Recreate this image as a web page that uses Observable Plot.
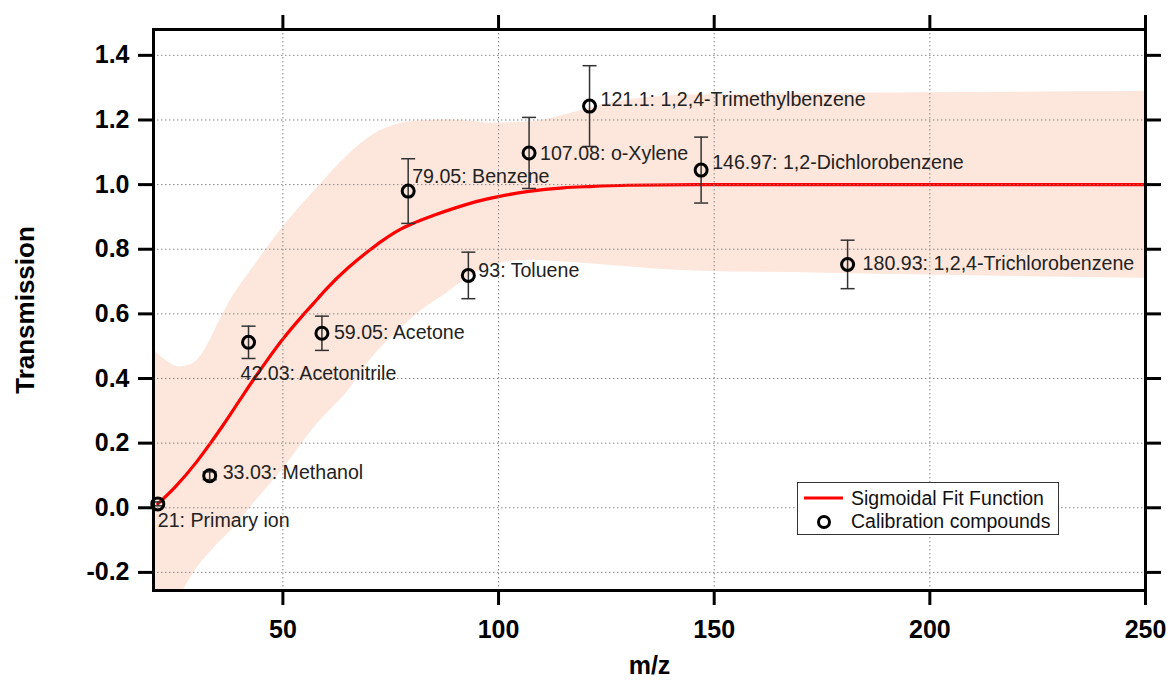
<!DOCTYPE html>
<html><head><meta charset="utf-8">
<script src="https://cdn.jsdelivr.net/npm/d3@7"></script>
<script src="https://cdn.jsdelivr.net/npm/@observablehq/plot@0.6"></script>
<style>
body{margin:0;background:#fff;}
#wrap{position:relative;width:1170px;height:681px;font-family:"Liberation Sans",Arial,sans-serif;}
#legend{position:absolute;left:797px;top:482px;width:260px;height:51px;border:1px solid #333;background:#fff;font-size:19.5px;color:#111;}
#legend span{position:absolute;left:53px;white-space:nowrap;line-height:1;}
#legend svg{position:absolute;left:0;top:0;}
</style></head><body><div id="wrap"></div>
<script>
// ---- data ----
const compoundMz = [21, 33.03, 42.03, 59.05, 79.05, 93, 107.08, 121.1, 146.97, 180.93];
const compoundNames = ["Primary ion", "Methanol", "Acetonitrile", "Acetone", "Benzene", "Toluene",
  "o-Xylene", "1,2,4-Trimethylbenzene", "1,2-Dichlorobenzene", "1,2,4-Trichlorobenzene"];
const transmission = [0.012, 0.099, 0.512, 0.54, 0.98, 0.719, 1.098, 1.243, 1.045, 0.753];
const transmissionErr = [0.006, 0.012, 0.05, 0.053, 0.1, 0.072, 0.11, 0.125, 0.102, 0.075];

const fitMz = [21, 25, 30, 33, 36, 40, 43, 46, 50, 54, 57, 60, 65, 70, 73, 77, 80, 85, 90, 95, 100, 107, 115, 121, 130, 146, 200, 250];
const fitT  = [0.012, 0.064, 0.142, 0.196, 0.253, 0.333, 0.393, 0.45, 0.522, 0.586, 0.631, 0.676, 0.741, 0.796, 0.826, 0.86, 0.879, 0.905, 0.928, 0.948, 0.963, 0.979, 0.99, 0.994, 0.998, 1.0, 1.0, 1.0];

const bandMz   = [20, 22, 24, 26, 28, 31, 33, 35, 38, 43, 50, 58, 65, 71, 77, 82, 88, 93, 98, 107, 118, 126, 145, 176, 200, 232, 250];
const bandLow  = [-0.45, -0.40, -0.34, -0.28, -0.23, -0.17, -0.14, -0.11, -0.07, 0.01, 0.12, 0.26, 0.36, 0.47, 0.55, 0.61, 0.664, 0.713, 0.75, 0.766, 0.758, 0.75, 0.733, 0.726, 0.72, 0.713, 0.71];
const bandHigh = [0.49, 0.465, 0.446, 0.436, 0.44, 0.47, 0.515, 0.57, 0.645, 0.742, 0.868, 0.99, 1.09, 1.155, 1.188, 1.198, 1.2, 1.197, 1.19, 1.194, 1.225, 1.253, 1.277, 1.282, 1.284, 1.287, 1.288];

const xTicks = [50, 100, 150, 200, 250];
const yTicks = [-0.2, 0.0, 0.2, 0.4, 0.6, 0.8, 1.0, 1.2, 1.4];

// ---- tables built from the arrays ----
const points = compoundMz.map((mz, i) => ({mz, t: transmission[i], err: transmissionErr[i],
  label: `${mz}: ${compoundNames[i]}`}));
const caps = points.flatMap(d => [{mz: d.mz, y: d.t + d.err}, {mz: d.mz, y: d.t - d.err}]);
const fit = fitMz.map((mz, i) => ({mz, t: fitT[i]}));
const band = bandMz.map((mz, i) => ({mz, lo: bandLow[i], hi: bandHigh[i]}));

// label placement (layout only)
const labelNudge = [[0,17],[13,-3],[-8,31],[12,-1],[4,-14],[10,-5],[11,1],[11,-6],[11,-7],[15,-1]];

const capSymbol = {draw(ctx) { ctx.moveTo(-7, 0); ctx.lineTo(7, 0); }};

const labelMarks = points.map((d, i) => Plot.text([d], {
  x: "mz", y: "t", text: "label", textAnchor: "start", lineAnchor: "middle",
  dx: labelNudge[i][0], dy: labelNudge[i][1], fontSize: 19.6, fill: "#222"
}));

const chart = Plot.plot({
  width: 1170, height: 681,
  marginLeft: 153, marginRight: 25, marginTop: 29, marginBottom: 91,
  style: {fontFamily: "'Liberation Sans', Arial, sans-serif", background: "white", color: "black"},
  x: {domain: [20, 250]},
  y: {domain: [-0.256, 1.48]},
  marks: [
    Plot.areaY(band, {x: "mz", y1: "lo", y2: "hi", fill: "#fde6db", curve: "monotone-x", clip: true}),
    Plot.line(fit, {x: "mz", y: "t", stroke: "#ff0000", strokeWidth: 3.2, curve: "monotone-x", clip: true}),
    Plot.gridX({ticks: [50, 100, 150, 200], stroke: "#888", strokeOpacity: 1, strokeDasharray: "1.5,2.5"}),
    Plot.gridY({ticks: yTicks, stroke: "#888", strokeOpacity: 1, strokeDasharray: "1.5,2.5"}),
    Plot.ruleX(points, {x: "mz", y1: d => d.t - d.err, y2: d => d.t + d.err, stroke: "#333", strokeWidth: 1.5}),
    Plot.dot(caps, {x: "mz", y: "y", symbol: capSymbol, stroke: "#333", strokeWidth: 1.5, fill: "none"}),
    Plot.dot(points, {x: "mz", y: "t", r: 6, stroke: "black", strokeWidth: 3, fill: "none"}),
    ...labelMarks,
    Plot.frame({stroke: "black", strokeWidth: 3}),
    Plot.axisX({anchor: "bottom", ticks: xTicks, tickSize: 15, tickPadding: 15, strokeWidth: 3,
      fontSize: 25, fontWeight: "bold", tickFormat: d => String(d), label: null}),
    Plot.axisX({anchor: "top", ticks: xTicks, tickSize: 15, strokeWidth: 3, tickFormat: () => "", label: null}),
    Plot.axisY({anchor: "left", ticks: yTicks, tickSize: 15, tickPadding: 9, strokeWidth: 3,
      fontSize: 25, fontWeight: "bold", tickFormat: d => d.toFixed(1), label: null}),
    Plot.axisY({anchor: "right", ticks: yTicks, tickSize: 15, strokeWidth: 3, tickFormat: () => "", label: null}),
    Plot.text(["Transmission"], {frameAnchor: "left", dx: -128, rotate: -90, textAnchor: "middle", lineAnchor: "middle",
      fontSize: 26, fontWeight: "bold", fill: "black"}),
    Plot.text(["m/z"], {frameAnchor: "bottom", dy: 75, textAnchor: "middle", lineAnchor: "middle",
      fontSize: 25, fontWeight: "bold", fill: "black"})
  ]
});
const wrap = document.getElementById("wrap");
wrap.appendChild(chart);

const legend = document.createElement("div");
legend.id = "legend";
legend.innerHTML = `<svg width="60" height="51"><line x1="6" x2="45" y1="15" y2="15" stroke="#ff0000" stroke-width="3"/>
<circle cx="26" cy="39" r="5.5" fill="none" stroke="black" stroke-width="3"/></svg>
<span style="top:6px">Sigmoidal Fit Function</span><span style="top:29px">Calibration compounds</span>`;
wrap.appendChild(legend);
</script></body></html>
